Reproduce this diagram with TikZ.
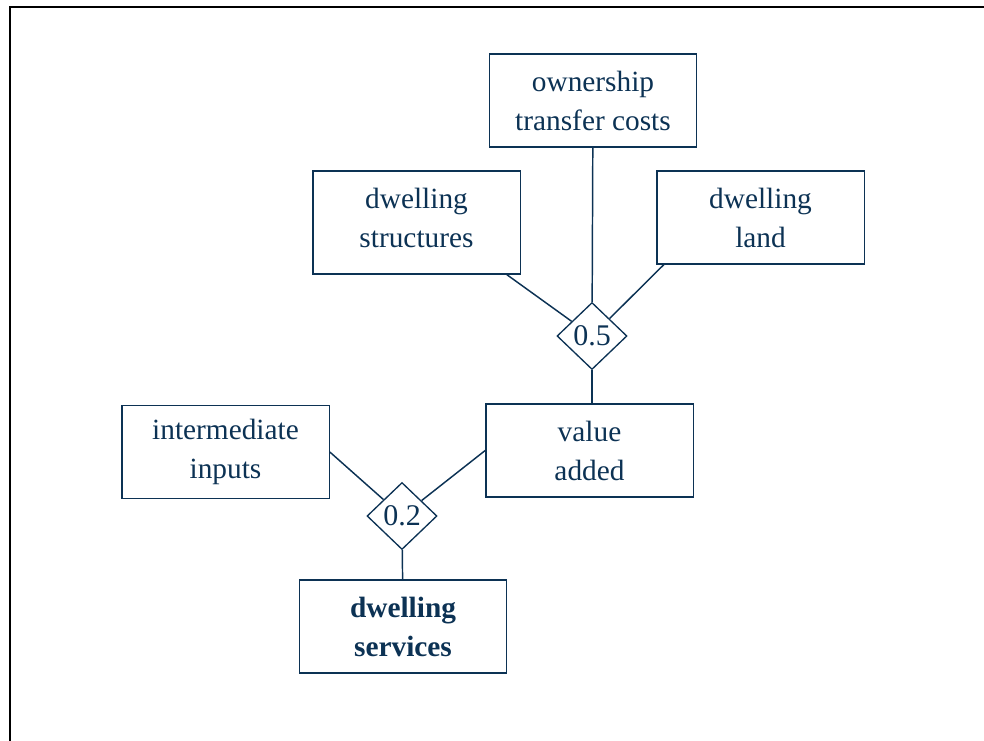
\documentclass[tikz,border=0pt]{standalone}
\usepackage{fontspec}
\setmainfont{Liberation Serif}
\usetikzlibrary{shapes.geometric}
\definecolor{bleuNuit}{RGB}{12,50,84}
\tikzset{
  boite/.style={draw=bleuNuit, text=bleuNuit, line width=1pt, minimum width=155.5pt, minimum height=69.75pt, align=center, inner sep=0pt, font=\fontsize{22}{29.25}\selectfont},
  losange/.style={diamond, draw=bleuNuit, text=bleuNuit, line width=1pt, minimum width=52.5pt, minimum height=50.25pt, inner sep=0pt, font=\fontsize{22.5}{26}\selectfont},
  lien/.style={draw=bleuNuit, line width=1.1pt}
}

\begin{document}
\begin{tikzpicture}[x=0.75pt,y=-0.75pt]
\useasboundingbox (0,0) rectangle (984,740);

%cadre (coupé à droite et en bas)
\draw[line width=1.5pt] (10,7) rectangle (1010,770);

%niveau haut : les trois composantes
\node[boite] (ownership) at (593,100.5) {ownership\\transfer costs};
\node[boite, minimum height=77.25pt] (structures) at (416.5,222.5) {dwelling\\structures\rule[-7.5pt]{0pt}{0pt}};
\node[boite] (land) at (760.5,217.5) {dwelling\\land};
\node[losange] (d05) at (592,336) {0.5};

%niveau bas
\node[boite] (value) at (589.5,450.5) {value\\added};
\node[boite] (inputs) at (225.5,452) {intermediate\\inputs};
\node[losange] (d02) at (402,516) {0.2};
\node[boite] (services) at (403,626.5) {\textbf{dwelling}\\\textbf{services}};

%liens
\draw[lien] (ownership) -- (d05);
\draw[lien] (structures.-30) -- (d05);
\draw[lien] (land.206) -- (d05);
\draw[lien] (d05.south) -- (d05.south |- value.north);
\draw[lien] (inputs.east) -- (d02);
\draw[lien] (value.west) -- (d02);
\draw[lien] (d02) -- (services);

\end{tikzpicture}
\end{document}
